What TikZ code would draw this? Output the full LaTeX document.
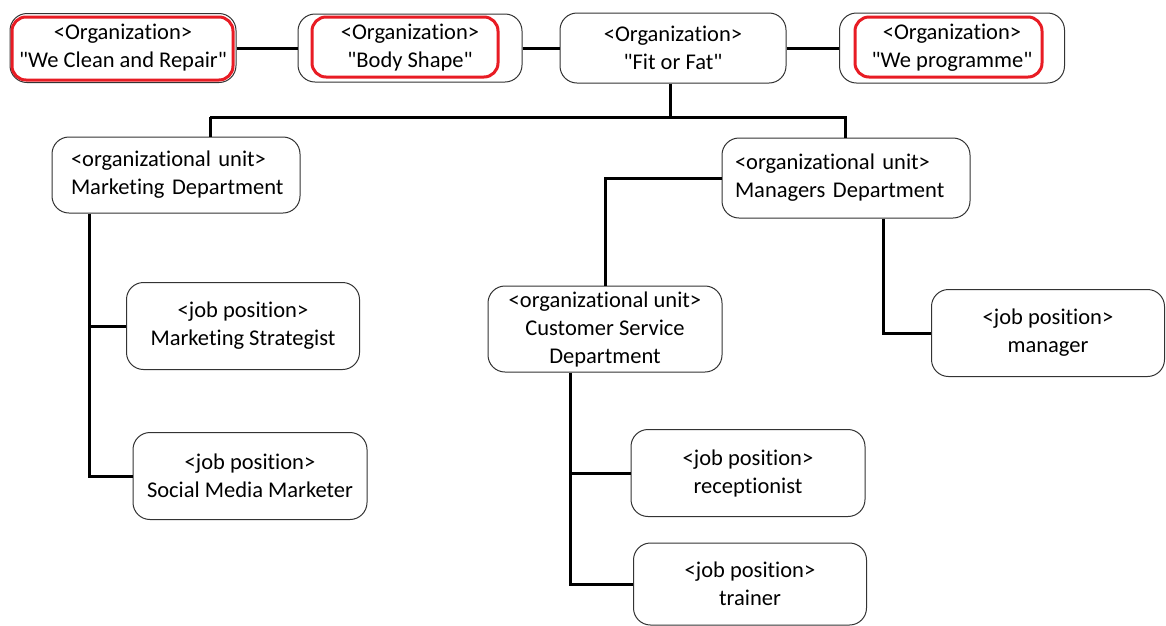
\documentclass[tikz,border=0pt]{standalone}
\usepackage{fontspec}
\newfontfamily\carl{Carlito}[Ligatures={NoCommon}]
\usetikzlibrary{calc}
\newcommand{\qd}{"}
\begin{document}
\begin{tikzpicture}[x=1pt,y=-1pt,
  box/.style={draw=black!80, line width=1pt, rounded corners=17pt, fill=white,
    text=black, inner sep=0pt, align=center,
    font=\carl\fontsize{22.5}{28}\selectfont},
  lbox/.style={box, align=left, inner xsep=19pt},
  redmark/.style={draw={rgb,255:red,232;green,28;blue,36}, line width=3pt, rounded corners=14pt},
  conn/.style={draw=black, line width=3pt}]
\useasboundingbox[fill=white] (0,0) rectangle (1166,625);

% organizations
\node[box, minimum width=226pt, minimum height=69pt] (wc) at (123,48) {<Organization>\\\qd We Clean and Repair\qd};
\node[box, minimum width=224pt, minimum height=68pt] (bs) at (410,48) {<Organization>\\\qd Body Shape\qd};
\node[box, minimum width=226pt, minimum height=70pt] (ff) at (673,48) {<Organization>\\\qd Fit or Fat\qd};
\node[box, minimum width=225pt, minimum height=70pt] (wp) at (952,48) {<Organization>\\\qd We programme\qd};

% red highlights
\draw[redmark] (12,17) rectangle (233,80);
\draw[redmark] (312,17) rectangle (498,77);
\draw[redmark] (855,17) rectangle (1042,77);

% units
\node[lbox, text width=210pt, minimum width=248pt, minimum height=76pt] (mk) at (176,175) {\mbox{<organizational unit>}\\\mbox{Marketing Department}};
\node[lbox, text width=222pt, minimum width=248pt, minimum height=80pt, inner xsep=13pt] (mg) at (846,178) {\mbox{<organizational unit>}\\\mbox{Managers Department}};
\node[box, minimum width=234pt, minimum height=86pt] (cs) at (605,329) {<organizational unit>\\Customer Service\\Department};

% job positions
\node[box, minimum width=233pt, minimum height=87pt] (ms) at (243,326) {<job position>\\Marketing Strategist};
\node[box, minimum width=234pt, minimum height=87pt] (sm) at (250,476) {<job position>\\Social Media Marketer};
\node[box, minimum width=233pt, minimum height=87pt] (mgr) at (1048,333) {<job position>\\manager};
\node[box, minimum width=234pt, minimum height=87pt] (rc) at (748,473) {<job position>\\receptionist};
\node[box, minimum width=233pt, minimum height=82pt] (tr) at (750,584) {<job position>\\trainer};

% connectors among organizations
\draw[conn] (wc.east) -- (bs.west);
\draw[conn] (bs.east) -- (ff.west);
\draw[conn] (ff.east) -- (wp.west);

% tree
\coordinate (bus) at (670,117);
\draw[conn] ($(ff.south)+(-3,0)$) -- (bus);
\draw[conn] (mk.north |- bus) ++(34,0) coordinate (bl) -- (bus) -| ($(mg.north)+(-1,0)$);
\draw[conn] (bl) -- (bl |- mk.north);

\coordinate (mkx) at ($(mk.south west)+(38,0)$);
\draw[conn] (mkx) |- (sm.west);
\draw[conn] (mkx |- ms.west) -- (ms.west);

\draw[conn] (mg.west) -| (cs.north);
\draw[conn] ($(mg.south)+(37,0)$) |- (mgr.west);

\coordinate (csx) at ($(cs.south)+(-35,0)$);
\draw[conn] (csx) |- (tr.west);
\draw[conn] (csx |- rc.west) -- (rc.west);
\end{tikzpicture}
\end{document}
